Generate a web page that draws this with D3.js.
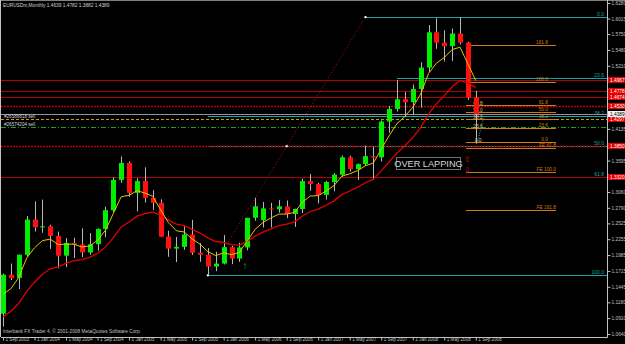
<!DOCTYPE html>
<html>
<head>
<meta charset="utf-8">
<script src="https://cdnjs.cloudflare.com/ajax/libs/d3/7.8.5/d3.min.js"></script>
<style>
body { margin: 0; background: #000; }
svg { display: block; }
text { font-family: "Liberation Sans", Arial, sans-serif; }
</style>
</head>
<body>
<svg id="chart" width="625" height="344"></svg>
<script>
// EURUSDm monthly bars, 1 Sep 2003 .. 1 Sep 2008
var open = [1.0985,1.1650,1.1595,1.1990,1.2590,1.2460,1.2475,1.2310,1.1975,1.2190,1.2165,1.2030,1.2170,1.2430,1.2750,1.3265,
  1.3555,1.3045,1.3245,1.2960,1.2875,1.2300,1.2095,1.2125,1.2335,1.2025,1.1990,1.1790,
  1.1840,1.2120,1.1925,1.2115,1.2620,1.2580,1.2780,1.2765,1.2815,1.2685,1.2770,1.3245,
  1.3195,1.3010,1.3230,1.3355,1.3650,1.3450,1.3535,1.3670,1.3650,1.4260,1.4475,1.4640,
  1.4590,1.4815,1.5180,1.5780,1.5605,1.5545,1.5760,1.5605,1.4670];
var high = [1.1670,1.1840,1.1995,1.2650,1.2900,1.2930,1.2500,1.2385,1.2275,1.2280,1.2440,1.2360,1.2440,1.2810,1.3310,1.3665,
  1.3580,1.3295,1.3480,1.3090,1.2935,1.2400,1.2295,1.2475,1.2585,1.2190,1.2105,1.2040,
  1.2325,1.2145,1.2195,1.2620,1.2960,1.2890,1.2875,1.2920,1.2915,1.2775,1.3290,1.3365,
  1.3215,1.3250,1.3380,1.3680,1.3680,1.3545,1.3850,1.3830,1.4280,1.4525,1.4965,1.4760,
  1.4890,1.5270,1.5905,1.6020,1.5815,1.5845,1.6040,1.5620,1.4782];
var low = [1.0765,1.1560,1.1405,1.1960,1.2385,1.2365,1.2090,1.1760,1.1780,1.1935,1.1950,1.1990,1.2060,1.2290,1.2720,1.3215,
  1.2980,1.2730,1.2880,1.2750,1.2290,1.1955,1.1865,1.2075,1.1985,1.1870,1.1640,1.1710,
  1.1825,1.1830,1.1870,1.2065,1.2570,1.2455,1.2455,1.2710,1.2615,1.2465,1.2700,1.3080,
  1.2865,1.2930,1.3070,1.3320,1.3410,1.3265,1.3505,1.3265,1.3580,1.4070,1.4430,1.4340,
  1.4370,1.4500,1.5105,1.5500,1.5285,1.5290,1.5575,1.4630,1.3882];
var close = [1.1650,1.1595,1.1990,1.2590,1.2460,1.2475,1.2310,1.1975,1.2190,1.2165,1.2030,1.2170,1.2430,1.2750,1.3265,1.3555,
  1.3045,1.3245,1.2960,1.2875,1.2300,1.2095,1.2125,1.2335,1.2025,1.1990,1.1790,1.1840,
  1.2120,1.1925,1.2115,1.2620,1.2815,1.2780,1.2765,1.2815,1.2685,1.2770,1.3245,1.3195,
  1.3010,1.3230,1.3355,1.3650,1.3450,1.3535,1.3670,1.3650,1.4260,1.4475,1.4640,1.4590,
  1.4815,1.5180,1.5780,1.5605,1.5545,1.5760,1.5605,1.4670,1.4389];

var xTickLabels = ["1 Sep 2003","1 Jan 2004","1 May 2004","1 Sep 2004","1 Jan 2005","1 May 2005","1 Sep 2005",
  "1 Jan 2006","1 May 2006","1 Sep 2006","1 Jan 2007","1 May 2007","1 Sep 2007","1 Jan 2008","1 May 2008","1 Sep 2008"];
var yTicks = [1.6280,1.6015,1.5750,1.5480,1.5210,1.4945,1.4675,1.4405,1.4135,1.3865,1.3595,1.3325,
  1.3060,1.2790,1.2525,1.2255,1.1985,1.1715,1.1445,1.1180,1.0910,1.0640];

// moving averages: EMA 5 (yellow) and EMA 13 (red), value on the bar before the first one shown
var emaPeriods = [5, 13];
var emaSeed = [1.1155, 1.0810];

// fibo retracement (teal), Nov 2005 low -> Jul 2008 high
var fibAnchors = [1.1640, 1.6040];
var fibRatios = [0, 23.6, 38.2, 50, 61.8, 100];
// second fibo (orange) on the current swing
var fib2Anchors = [1.3915, 1.4934];
var fib2Ratios = [0, 23.6, 38.2, 50, 61.8, 100, 161.8];
// fibo expansion
var feNames = ["FE 61.8", "FE 100.0", "FE 161.8"];
var fePrices = [1.3807, 1.3400, 1.2750];

// horizontal lines drawn by hand
var hLinePrices = [1.4967, 1.4778, 1.4674, 1.3320];
var dotLinePrices = [1.4530, 1.3850];
var bidPrice = 1.4389;
var orderNames = ["#26586818 sell", "#26574204 sell"];
var orderPrices = [1.4297, 1.4165];

var svg = d3.select("#chart");
var W = 625, H = 344;
var plotRight = 607, plotBottom = 337;
var n = close.length;

var x = d3.scaleLinear().domain([0, 60]).range([3, 475.8]);
var y = d3.scaleLinear().domain([1.0640, 1.6280]).range([334, 3]);
var fmt = d3.format(".4f");

svg.append("rect").attr("width", W).attr("height", H).attr("fill", "#000");

// frame
svg.append("line").attr("x1", 0).attr("x2", W).attr("y1", 0.5).attr("y2", 0.5).attr("stroke", "#808080");
svg.append("line").attr("x1", 0.5).attr("x2", 0.5).attr("y1", 0).attr("y2", plotBottom).attr("stroke", "#c0c0c0");

var plot = svg.append("g");

// teal fibo retracement
var fibCol = "#1aa3a3";
var fx0 = x(26);
fibRatios.forEach(function(r) {
  var p = fibAnchors[1] - r / 100 * (fibAnchors[1] - fibAnchors[0]);
  var start = r === 0 ? x(46) : (r < 30 ? x(50) : fx0);
  plot.append("line").attr("x1", start).attr("x2", plotRight).attr("y1", Math.round(y(p)) + 0.5).attr("y2", Math.round(y(p)) + 0.5)
    .attr("stroke", fibCol);
  plot.append("text").attr("x", 604).attr("y", Math.round(y(p)) - 1).attr("text-anchor", "end")
    .attr("font-size", 5).attr("fill", fibCol).text(r.toFixed(1));
});

// hand drawn red lines
hLinePrices.forEach(function(p) {
  plot.append("line").attr("x1", 1).attr("x2", plotRight).attr("y1", Math.round(y(p)) + 0.5).attr("y2", Math.round(y(p)) + 0.5)
    .attr("stroke", "#b00000");
});
dotLinePrices.forEach(function(p) {
  plot.append("line").attr("x1", 1).attr("x2", plotRight).attr("y1", Math.round(y(p)) + 0.5).attr("y2", Math.round(y(p)) + 0.5)
    .attr("stroke", "#c00000").attr("stroke-width", 1.3).attr("stroke-dasharray", "2,1");
});

// bid line
plot.append("line").attr("x1", 1).attr("x2", plotRight).attr("y1", Math.round(y(bidPrice)) + 0.5).attr("y2", Math.round(y(bidPrice)) + 0.5)
  .attr("stroke", "#8a96a8");

// order lines
var orderCols = ["#c8a000", "#20a020"];
var orderDash = ["3,2", "5,2,1,2"];
orderPrices.forEach(function(p, i) {
  var yy = Math.round(y(p)) + 0.5;
  plot.append("line").attr("x1", 1).attr("x2", plotRight).attr("y1", yy).attr("y2", yy)
    .attr("stroke", orderCols[i]).attr("stroke-dasharray", orderDash[i]);
  plot.append("text").attr("x", 4).attr("y", yy - 1.5).attr("font-size", 4.6).attr("fill", "#d0d0d0").text(orderNames[i]);
});

// orange fibo
var f2Col = "#d07a10";
fib2Ratios.forEach(function(r) {
  var p = fib2Anchors[0] + r / 100 * (fib2Anchors[1] - fib2Anchors[0]);
  var yy = Math.round(y(p)) + 0.5;
  plot.append("line").attr("x1", x(59) - 2).attr("x2", 556).attr("y1", yy).attr("y2", yy).attr("stroke", f2Col);
  plot.append("text").attr("x", 548).attr("y", yy - 1.5).attr("text-anchor", "end")
    .attr("font-size", 4.8).attr("fill", f2Col).text(r.toFixed(1));
  if (r <= 61.8) {
    plot.append("text").attr("x", 478).attr("y", yy - 1).attr("text-anchor", "middle")
      .attr("font-size", 4.8).attr("fill", "#e8c080").text(r.toFixed(1));
  }
});
fePrices.forEach(function(p, i) {
  var yy = Math.round(y(p)) + 0.5;
  plot.append("line").attr("x1", x(59) - 2).attr("x2", 556).attr("y1", yy).attr("y2", yy).attr("stroke", f2Col);
  plot.append("text").attr("x", 556).attr("y", yy - 1.5).attr("text-anchor", "end")
    .attr("font-size", 4.8).attr("fill", f2Col).text(feNames[i]);
});

// teal dotted swing line near the last bar
plot.append("path").attr("d", "M478,141 C481,128 482,118 488,112").attr("fill", "none")
  .attr("stroke", "#30b0b0").attr("stroke-dasharray", "1,1.5");

// fibo diagonal (dotted) with handles
plot.append("line").attr("x1", x(26)).attr("y1", y(fibAnchors[0])).attr("x2", x(46)).attr("y2", y(fibAnchors[1]))
  .attr("stroke", "#b01010").attr("stroke-dasharray", "1,2");
[[x(26), y(fibAnchors[0])], [x(36), y((fibAnchors[0] + fibAnchors[1]) / 2)], [x(46), y(fibAnchors[1])]].forEach(function(pt) {
  plot.append("rect").attr("x", pt[0] - 1).attr("y", pt[1] - 1).attr("width", 2).attr("height", 2).attr("fill", "#fff");
});

// moving averages
function ema(period, seed) {
  var a = 2 / (period + 1), v = seed;
  return close.map(function(c) { v = v + a * (c - v); return v; });
}
var emaFast = ema(emaPeriods[0], emaSeed[0]);
var emaSlow = ema(emaPeriods[1], emaSeed[1]);
var lineGen = d3.line().x(function(d, i) { return x(i); }).y(function(d) { return y(d); });

// candles
var bars = plot.append("g").selectAll("g").data(d3.range(n)).enter().append("g");
bars.append("line")
  .attr("x1", function(i) { return Math.round(x(i)) + 0.5; })
  .attr("x2", function(i) { return Math.round(x(i)) + 0.5; })
  .attr("y1", function(i) { return y(high[i]); })
  .attr("y2", function(i) { return y(low[i]); })
  .attr("stroke", "#b8b8b8");
bars.append("rect")
  .attr("x", function(i) { return Math.round(x(i)) - 2; })
  .attr("width", 5)
  .attr("y", function(i) { return y(Math.max(open[i], close[i])); })
  .attr("height", function(i) { return Math.max(1, Math.abs(y(open[i]) - y(close[i]))); })
  .attr("fill", function(i) { return close[i] >= open[i] ? "#00ee00" : "#ff1010"; });

plot.append("path").datum(emaSlow).attr("d", lineGen).attr("fill", "none").attr("stroke", "#e00000").attr("stroke-width", 1.3);
plot.append("path").datum(emaFast).attr("d", lineGen).attr("fill", "none").attr("stroke", "#e8c400").attr("stroke-width", 1);

// arrows
plot.append("text").attr("x", 245).attr("y", 269).attr("text-anchor", "middle").attr("font-size", 10)
  .attr("font-weight", "bold").attr("fill", "#10c010").attr("font-family", "DejaVu Sans").text("\u2191");
plot.append("text").attr("x", x(21)).attr("y", 220).attr("text-anchor", "middle").attr("font-size", 7)
  .attr("fill", "#e01010").text("\u2193");
plot.append("text").attr("x", 467).attr("y", 162).attr("text-anchor", "middle").attr("font-size", 8)
  .attr("fill", "#d01010").attr("font-family", "DejaVu Sans").text("\u21e7");
plot.append("text").attr("x", 467).attr("y", 173).attr("text-anchor", "middle").attr("font-size", 8)
  .attr("fill", "#d01010").attr("font-family", "DejaVu Sans").text("\u21e9");

// OVER LAPPING label
plot.append("rect").attr("x", 396.5).attr("y", 157.5).attr("width", 64).attr("height", 12)
  .attr("fill", "none").attr("stroke", "#707070");
plot.append("text").attr("x", 428.5).attr("y", 167.3).attr("text-anchor", "middle").attr("font-size", 9.2)
  .attr("fill", "#d8d8d8").text("OVER LAPPING");

// right price axis
var yAxis = d3.axisRight(y).tickValues(yTicks).tickFormat(fmt).tickSize(3).tickPadding(1);
var gy = svg.append("g").attr("transform", "translate(" + (plotRight + 0.5) + ",0)").call(yAxis);
gy.select(".domain").attr("d", "M0,0V" + (plotBottom + 0.5)).attr("stroke", "#c0c0c0");
gy.selectAll(".tick line").attr("stroke", "#c0c0c0");
gy.selectAll(".tick text").attr("fill", "#c0c0c0").attr("font-size", 4.8).attr("font-family", null);

// price labels on the scale
function priceTag(p, bg, fg) {
  var yy = Math.round(y(p));
  svg.append("rect").attr("x", plotRight + 1).attr("y", yy - 3).attr("width", 17).attr("height", 6).attr("fill", bg);
  svg.append("text").attr("x", plotRight + 3).attr("y", yy + 2).attr("font-size", 4.8).attr("fill", fg).text(fmt(p));
}
hLinePrices.concat(dotLinePrices).concat([orderPrices[0]]).forEach(function(p) { priceTag(p, "#e00000", "#fff"); });
priceTag(bidPrice, "#f0f0f0", "#000");

// bottom time axis
var xAxis = d3.axisBottom(x).tickValues(d3.range(0, n, 4)).tickFormat(function(d) { return xTickLabels[d / 4]; })
  .tickSize(3).tickPadding(0);
var gx = svg.append("g").attr("transform", "translate(0," + (plotBottom + 0.5) + ")").call(xAxis);
gx.select(".domain").attr("d", "M1,0H" + (plotRight + 0.5)).attr("stroke", "#c0c0c0");
gx.selectAll(".tick line").attr("stroke", "#c0c0c0");
gx.selectAll(".tick text").attr("fill", "#c0c0c0").attr("font-size", 4.6).attr("font-family", null)
  .attr("text-anchor", "start").attr("x", 2).attr("dy", "0.1em");

// header and footer
svg.append("text").attr("x", 3).attr("y", 7).attr("font-size", 4.8).attr("fill", "#d0d0d0")
  .text("EURUSDm,Monthly  1.4639 1.4782 1.3882 1.4389");
svg.append("text").attr("x", 3).attr("y", 333).attr("font-size", 4.8).attr("fill", "#c0c0c0")
  .text("Interbank FX Trader 4, \u00a9 2001-2008 MetaQuotes Software Corp.");
</script>
</body>
</html>
